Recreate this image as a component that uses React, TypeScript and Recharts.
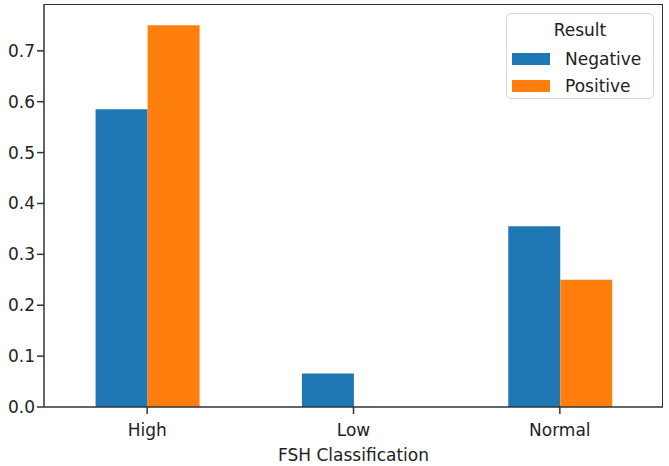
import React from 'react';
import { BarChart, Bar, XAxis, YAxis, Legend } from 'recharts';

const categories = ['High', 'Low', 'Normal'];
const negative = [0.585, 0.066, 0.355];
const positive = [0.75, 0, 0.25];
const yTicks = [0, 0.1, 0.2, 0.3, 0.4, 0.5, 0.6, 0.7];

const data = categories.map((c, i) => ({ name: c, Negative: negative[i], Positive: positive[i] }));

const FONT = '"DejaVu Sans", sans-serif';
const AXIS = '#333';

const LegendBox = () => (
  <div
    style={{
      width: 148,
      height: 86,
      border: '1px solid #d6d6d6',
      borderRadius: 5,
      background: 'rgba(255,255,255,0.85)',
      fontFamily: FONT,
      fontSize: 17,
      color: '#222',
      position: 'relative',
      boxSizing: 'border-box',
    }}
  >
    <div style={{ position: 'absolute', top: 6, left: 0, width: '100%', textAlign: 'center' }}>Result</div>
    {[
      ['Negative', '#1f77b4', 35],
      ['Positive', '#ff7f0e', 62],
    ].map(([label, color, top]) => (
      <div key={label as string} style={{ position: 'absolute', top: top as number, left: 5, display: 'flex', alignItems: 'center' }}>
        <span style={{ width: 38, height: 12, background: color as string, display: 'inline-block' }} />
        <span style={{ marginLeft: 15, lineHeight: '20px' }}>{label}</span>
      </div>
    ))}
  </div>
);

export default function App() {
  return (
    <div style={{ position: 'absolute', top: 0, left: 0, width: 669, height: 466, background: '#fff' }}>
      <BarChart
        width={669}
        height={466}
        data={data}
        margin={{ top: 4, right: 6, bottom: 0, left: 0 }}
        barCategoryGap="25%"
        barGap={0}
      >
        <XAxis
          dataKey="name"
          height={59}
          padding={{ left: 0, right: 0 }}
          tickSize={7}
          tickMargin={10}
          axisLine={{ stroke: AXIS, strokeWidth: 1.5 }}
          tickLine={{ stroke: AXIS, strokeWidth: 1.5 }}
          tick={{ fontFamily: FONT, fontSize: 17, fill: '#222' }}
          label={{ value: 'FSH Classification', position: 'insideBottom', offset: 5, fontFamily: FONT, fontSize: 17, fill: '#222' }}
        />
        <YAxis
          width={44}
          domain={[0, 0.792]}
          ticks={yTicks}
          tickSize={7}
          tickMargin={2}
          tickFormatter={(v: number) => v.toFixed(1)}
          axisLine={{ stroke: AXIS, strokeWidth: 1.5 }}
          tickLine={{ stroke: AXIS, strokeWidth: 1.5 }}
          tick={{ fontFamily: FONT, fontSize: 17, fill: '#222' }}
          allowDataOverflow
        />
        <Legend
          layout="vertical"
          align="center"
          verticalAlign="middle"
          wrapperStyle={{ position: 'absolute', top: 13, left: 506, width: 148 }}
          content={() => <LegendBox />}
        />
        <Bar dataKey="Negative" fill="#1f77b4" isAnimationActive={false} />
        <Bar dataKey="Positive" fill="#ff7f0e" isAnimationActive={false} />
      </BarChart>
      {/* top and right spines of the plot frame */}
      <div
        style={{
          position: 'absolute',
          left: 44,
          top: 4,
          width: 619,
          height: 403,
          borderTop: `1.5px solid ${AXIS}`,
          borderRight: `1.5px solid ${AXIS}`,
          boxSizing: 'border-box',
          pointerEvents: 'none',
        }}
      />
    </div>
  );
}
